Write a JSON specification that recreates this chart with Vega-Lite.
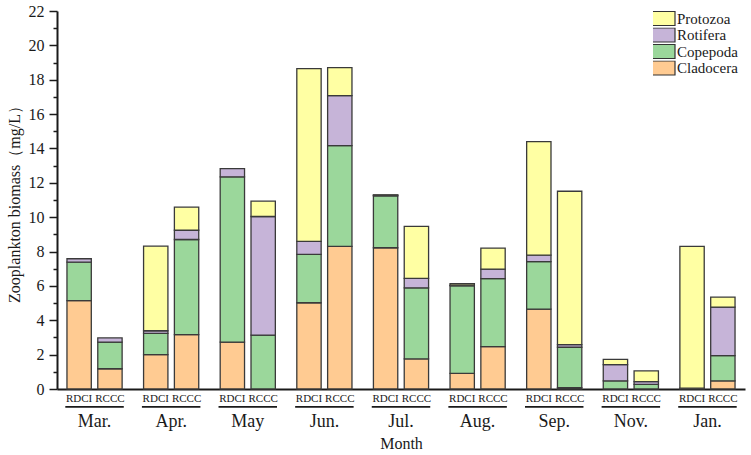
{
  "$schema": "https://vega.github.io/schema/vega-lite/v6.json",
  "width": 688,
  "height": 378,
  "autosize": {"type": "none"},
  "padding": {"left": 57, "top": 11, "right": 6, "bottom": 66},
  "background": "white",
  "config": {
    "view": {"stroke": null},
    "font": "Liberation Serif",
    "axisY": {
      "grid": false, "domainColor": "#1a1a1a", "domainWidth": 2,
      "tickColor": "#1a1a1a", "tickWidth": 1.5, "tickSize": 8,
      "labelFont": "Liberation Serif", "labelFontSize": 16, "labelColor": "#1a1a1a", "labelPadding": 5,
      "labelOverlap": false,
      "titleFont": "Liberation Serif", "titleFontSize": 16, "titleFontWeight": "normal", "titleColor": "#1a1a1a", "titlePadding": 6
    }
  },
  "datasets": {
    "biomass": [
      {"month": "Mar.", "site": "RDCI", "taxon": "Cladocera", "biomass": 5.14},
      {"month": "Mar.", "site": "RDCI", "taxon": "Copepoda", "biomass": 2.24},
      {"month": "Mar.", "site": "RDCI", "taxon": "Rotifera", "biomass": 0.2},
      {"month": "Mar.", "site": "RCCC", "taxon": "Cladocera", "biomass": 1.18},
      {"month": "Mar.", "site": "RCCC", "taxon": "Copepoda", "biomass": 1.55},
      {"month": "Mar.", "site": "RCCC", "taxon": "Rotifera", "biomass": 0.24},
      {"month": "Apr.", "site": "RDCI", "taxon": "Cladocera", "biomass": 2.0},
      {"month": "Apr.", "site": "RDCI", "taxon": "Copepoda", "biomass": 1.24},
      {"month": "Apr.", "site": "RDCI", "taxon": "Rotifera", "biomass": 0.15},
      {"month": "Apr.", "site": "RDCI", "taxon": "Protozoa", "biomass": 4.92},
      {"month": "Apr.", "site": "RCCC", "taxon": "Cladocera", "biomass": 3.16},
      {"month": "Apr.", "site": "RCCC", "taxon": "Copepoda", "biomass": 5.54},
      {"month": "Apr.", "site": "RCCC", "taxon": "Rotifera", "biomass": 0.54},
      {"month": "Apr.", "site": "RCCC", "taxon": "Protozoa", "biomass": 1.34},
      {"month": "May", "site": "RDCI", "taxon": "Cladocera", "biomass": 2.73},
      {"month": "May", "site": "RDCI", "taxon": "Copepoda", "biomass": 9.62},
      {"month": "May", "site": "RDCI", "taxon": "Rotifera", "biomass": 0.48},
      {"month": "May", "site": "RCCC", "taxon": "Copepoda", "biomass": 3.14},
      {"month": "May", "site": "RCCC", "taxon": "Rotifera", "biomass": 6.9},
      {"month": "May", "site": "RCCC", "taxon": "Protozoa", "biomass": 0.89},
      {"month": "Jun.", "site": "RDCI", "taxon": "Cladocera", "biomass": 5.02},
      {"month": "Jun.", "site": "RDCI", "taxon": "Copepoda", "biomass": 2.81},
      {"month": "Jun.", "site": "RDCI", "taxon": "Rotifera", "biomass": 0.76},
      {"month": "Jun.", "site": "RDCI", "taxon": "Protozoa", "biomass": 10.06},
      {"month": "Jun.", "site": "RCCC", "taxon": "Cladocera", "biomass": 8.3},
      {"month": "Jun.", "site": "RCCC", "taxon": "Copepoda", "biomass": 5.87},
      {"month": "Jun.", "site": "RCCC", "taxon": "Rotifera", "biomass": 2.9},
      {"month": "Jun.", "site": "RCCC", "taxon": "Protozoa", "biomass": 1.63},
      {"month": "Jul.", "site": "RDCI", "taxon": "Cladocera", "biomass": 8.22},
      {"month": "Jul.", "site": "RDCI", "taxon": "Copepoda", "biomass": 3.02},
      {"month": "Jul.", "site": "RDCI", "taxon": "Rotifera", "biomass": 0.04},
      {"month": "Jul.", "site": "RDCI", "taxon": "Protozoa", "biomass": 0.02},
      {"month": "Jul.", "site": "RCCC", "taxon": "Cladocera", "biomass": 1.75},
      {"month": "Jul.", "site": "RCCC", "taxon": "Copepoda", "biomass": 4.14},
      {"month": "Jul.", "site": "RCCC", "taxon": "Rotifera", "biomass": 0.55},
      {"month": "Jul.", "site": "RCCC", "taxon": "Protozoa", "biomass": 3.02},
      {"month": "Aug.", "site": "RDCI", "taxon": "Cladocera", "biomass": 0.91},
      {"month": "Aug.", "site": "RDCI", "taxon": "Copepoda", "biomass": 5.1},
      {"month": "Aug.", "site": "RDCI", "taxon": "Rotifera", "biomass": 0.03},
      {"month": "Aug.", "site": "RDCI", "taxon": "Protozoa", "biomass": 0.09},
      {"month": "Aug.", "site": "RCCC", "taxon": "Cladocera", "biomass": 2.47},
      {"month": "Aug.", "site": "RCCC", "taxon": "Copepoda", "biomass": 3.95},
      {"month": "Aug.", "site": "RCCC", "taxon": "Rotifera", "biomass": 0.56},
      {"month": "Aug.", "site": "RCCC", "taxon": "Protozoa", "biomass": 1.22},
      {"month": "Sep.", "site": "RDCI", "taxon": "Cladocera", "biomass": 4.65},
      {"month": "Sep.", "site": "RDCI", "taxon": "Copepoda", "biomass": 2.76},
      {"month": "Sep.", "site": "RDCI", "taxon": "Rotifera", "biomass": 0.38},
      {"month": "Sep.", "site": "RDCI", "taxon": "Protozoa", "biomass": 6.61},
      {"month": "Sep.", "site": "RCCC", "taxon": "Cladocera", "biomass": 0.08},
      {"month": "Sep.", "site": "RCCC", "taxon": "Copepoda", "biomass": 2.35},
      {"month": "Sep.", "site": "RCCC", "taxon": "Rotifera", "biomass": 0.15},
      {"month": "Sep.", "site": "RCCC", "taxon": "Protozoa", "biomass": 8.93},
      {"month": "Nov.", "site": "RDCI", "taxon": "Copepoda", "biomass": 0.47},
      {"month": "Nov.", "site": "RDCI", "taxon": "Rotifera", "biomass": 0.95},
      {"month": "Nov.", "site": "RDCI", "taxon": "Protozoa", "biomass": 0.31},
      {"month": "Nov.", "site": "RCCC", "taxon": "Copepoda", "biomass": 0.27},
      {"month": "Nov.", "site": "RCCC", "taxon": "Rotifera", "biomass": 0.16},
      {"month": "Nov.", "site": "RCCC", "taxon": "Protozoa", "biomass": 0.62},
      {"month": "Jan.", "site": "RDCI", "taxon": "Copepoda", "biomass": 0.03},
      {"month": "Jan.", "site": "RDCI", "taxon": "Rotifera", "biomass": 0.02},
      {"month": "Jan.", "site": "RDCI", "taxon": "Protozoa", "biomass": 8.25},
      {"month": "Jan.", "site": "RCCC", "taxon": "Cladocera", "biomass": 0.47},
      {"month": "Jan.", "site": "RCCC", "taxon": "Copepoda", "biomass": 1.47},
      {"month": "Jan.", "site": "RCCC", "taxon": "Rotifera", "biomass": 2.83},
      {"month": "Jan.", "site": "RCCC", "taxon": "Protozoa", "biomass": 0.58}
    ],
    "sites": [
      {"month": "Mar.", "site": "RDCI"}, {"month": "Mar.", "site": "RCCC"},
      {"month": "Apr.", "site": "RDCI"}, {"month": "Apr.", "site": "RCCC"},
      {"month": "May", "site": "RDCI"}, {"month": "May", "site": "RCCC"},
      {"month": "Jun.", "site": "RDCI"}, {"month": "Jun.", "site": "RCCC"},
      {"month": "Jul.", "site": "RDCI"}, {"month": "Jul.", "site": "RCCC"},
      {"month": "Aug.", "site": "RDCI"}, {"month": "Aug.", "site": "RCCC"},
      {"month": "Sep.", "site": "RDCI"}, {"month": "Sep.", "site": "RCCC"},
      {"month": "Nov.", "site": "RDCI"}, {"month": "Nov.", "site": "RCCC"},
      {"month": "Jan.", "site": "RDCI"}, {"month": "Jan.", "site": "RCCC"}
    ]
  },
  "encoding": {
    "x": {
      "field": "month", "type": "nominal",
      "sort": ["Mar.", "Apr.", "May", "Jun.", "Jul.", "Aug.", "Sep.", "Nov.", "Jan."],
      "scale": {"paddingInner": 0.28, "paddingOuter": 0.13},
      "axis": {
        "title": "Month", "labelAngle": 0, "labelFont": "Liberation Serif", "labelFontSize": 18, "labelPadding": 23,
        "labelColor": "#1a1a1a", "ticks": false, "domainColor": "#1a1a1a", "domainWidth": 2,
        "titleFont": "Liberation Serif", "titleFontSize": 16, "titleFontWeight": "normal", "titleColor": "#1a1a1a", "titlePadding": 5
      }
    }
  },
  "layer": [
    {
      "data": {"name": "biomass"},
      "transform": [
        {"calculate": "indexof(['Cladocera','Copepoda','Rotifera','Protozoa'], datum.taxon)", "as": "stackRank"}
      ],
      "mark": {"type": "bar", "stroke": "#3a3a3a", "strokeWidth": 1.3},
      "encoding": {
        "xOffset": {
          "field": "site", "type": "nominal", "sort": ["RDCI", "RCCC"],
          "scale": {"paddingInner": 0.21, "paddingOuter": 0}
        },
        "y": {
          "field": "biomass", "type": "quantitative", "stack": "zero",
          "scale": {"domain": [0, 22], "nice": false},
          "axis": {
            "title": "Zooplankton biomass（mg/L）",
            "values": [0,1,2,3,4,5,6,7,8,9,10,11,12,13,14,15,16,17,18,19,20,21,22],
            "labelExpr": "datum.value % 2 === 0 ? datum.label : ''",
            "tickDash": {"condition": {"test": "datum.value % 2 === 1", "value": [4, 20]}, "value": []}
          }
        },
        "color": {
          "field": "taxon", "type": "nominal",
          "scale": {
            "domain": ["Protozoa", "Rotifera", "Copepoda", "Cladocera"],
            "range": ["#FFFFA3", "#C6B4D8", "#9BD79B", "#FFCB92"]
          },
          "legend": {
            "title": null, "orient": "none", "legendX": 596, "legendY": 0,
            "symbolType": "M-2,-1H2V1H-2Z", "symbolSize": 196,
            "symbolStrokeColor": "#333333", "symbolStrokeWidth": 1.2, "symbolOpacity": 1,
            "labelFont": "Liberation Serif", "labelFontSize": 15, "labelColor": "#1a1a1a", "labelOffset": 8,
            "clipHeight": 15, "rowPadding": 0.5
          }
        },
        "order": {"field": "stackRank", "type": "quantitative", "sort": "ascending"}
      }
    },
    {
      "data": {"name": "sites"},
      "transform": [{"filter": "datum.site === 'RDCI'"}],
      "mark": {"type": "bar", "color": "#1a1a1a", "width": {"band": 1.06}},
      "encoding": {
        "y": {
          "datum": -0.99, "type": "quantitative",
          "axis": {
            "title": "Zooplankton biomass（mg/L）",
            "values": [0,1,2,3,4,5,6,7,8,9,10,11,12,13,14,15,16,17,18,19,20,21,22],
            "labelExpr": "datum.value % 2 === 0 ? datum.label : ''",
            "tickDash": {"condition": {"test": "datum.value % 2 === 1", "value": [4, 20]}, "value": []}
          }
        },
        "y2": {"datum": -1.09}
      }
    },
    {
      "data": {"name": "sites"},
      "mark": {"type": "text", "font": "Liberation Serif", "fontSize": 11, "color": "#1a1a1a", "baseline": "alphabetic", "align": "center"},
      "encoding": {
        "xOffset": {"field": "site", "type": "nominal", "sort": ["RDCI", "RCCC"]},
        "y": {
          "datum": -0.76, "type": "quantitative",
          "axis": {
            "title": "Zooplankton biomass（mg/L）",
            "values": [0,1,2,3,4,5,6,7,8,9,10,11,12,13,14,15,16,17,18,19,20,21,22],
            "labelExpr": "datum.value % 2 === 0 ? datum.label : ''",
            "tickDash": {"condition": {"test": "datum.value % 2 === 1", "value": [4, 20]}, "value": []}
          }
        },
        "text": {"field": "site"}
      }
    }
  ]
}
